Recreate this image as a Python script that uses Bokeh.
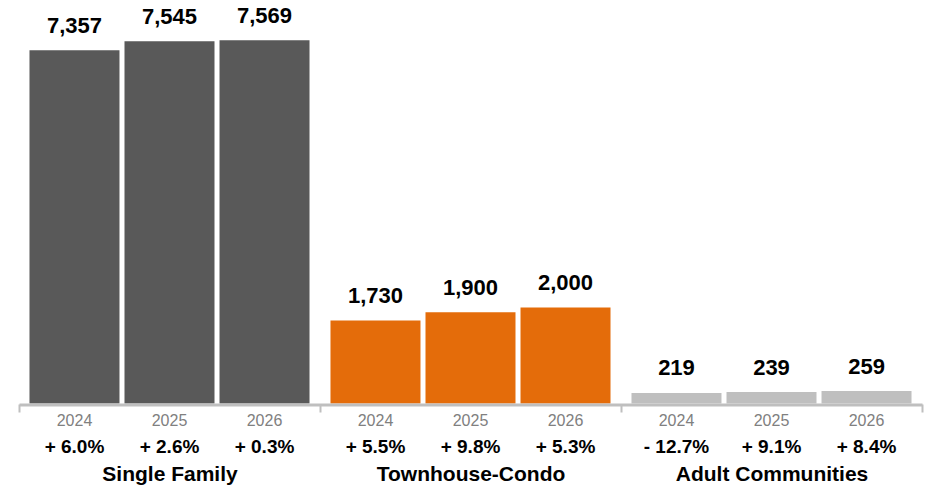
from bokeh.plotting import figure
from bokeh.models import Range1d, ColumnDataSource
from bokeh.core.properties import value
from bokeh.embed import file_html
from bokeh.resources import INLINE

# ---- data ----
groups = ["Single Family", "Townhouse-Condo", "Adult Communities"]
years = ["2024", "2025", "2026"]
single_family = [7357, 7545, 7569]
townhouse_condo = [1730, 1900, 2000]
adult_communities = [219, 239, 259]
pct_single_family = ["+ 6.0%", "+ 2.6%", "+ 0.3%"]
pct_townhouse_condo = ["+ 5.5%", "+ 9.8%", "+ 5.3%"]
pct_adult_communities = ["- 12.7%", "+ 9.1%", "+ 8.4%"]
group_colors = ["#595959", "#E46C0A", "#BFBFBF"]

series = [single_family, townhouse_condo, adult_communities]
pcts = [pct_single_family, pct_townhouse_condo, pct_adult_communities]

# ---- layout ----
W, H = 930, 490
PX_PER_UNIT_X = 100.333
X0_PX = 19
BASE_PX = 403
PX_PER_UNIT_Y = 0.048

x_start = -X0_PX / PX_PER_UNIT_X
x_end = (W - X0_PX) / PX_PER_UNIT_X
y_end = BASE_PX / PX_PER_UNIT_Y
y_start = -(H - BASE_PX) / PX_PER_UNIT_Y

FONT = value("Liberation Sans")

p = figure(width=W, height=H, output_backend="svg", toolbar_location=None,
           x_range=Range1d(x_start, x_end), y_range=Range1d(y_start, y_end),
           x_axis_type=None, y_axis_type=None, min_border=0,
           outline_line_color=None, background_fill_color="white",
           border_fill_color="white")
p.grid.visible = False

xs, tops, colors, labels, yrs, pc = [], [], [], [], [], []
for g, vals in enumerate(series):
    for i, v in enumerate(vals):
        xs.append(3 * g + 0.548 + 0.947 * i)
        tops.append(v)
        colors.append(group_colors[g])
        labels.append(f"{v:,}")
        yrs.append(years[i])
        pc.append(pcts[g][i])

src = ColumnDataSource(dict(x=xs, top=tops, color=colors, label=labels,
                            year=yrs, pct=pc, zero=[0] * len(xs)))

p.vbar(x="x", top="top", bottom=0, width=0.897, fill_color="color",
       line_color=None, source=src)

# axis line and group separators
axis_y = -1.5 / PX_PER_UNIT_Y
p.segment(x0=[0], y0=[axis_y], x1=[9], y1=[axis_y], line_color="#BFBFBF",
          line_width=3)
tick_top = -1 / PX_PER_UNIT_Y
tick_bot = -9 / PX_PER_UNIT_Y
p.segment(x0=[0, 3, 6, 9], y0=[tick_top] * 4, x1=[0, 3, 6, 9],
          y1=[tick_bot] * 4, line_color="#BFBFBF", line_width=2)

# value labels
p.text(x="x", y="top", text="label", source=src, text_align="center",
       text_baseline="alphabetic", y_offset=-25, text_font=FONT,
       text_font_style="bold", text_font_size="22px", text_color="#000000")

# year labels
p.text(x="x", y="zero", text="year", source=src, text_align="center",
       text_baseline="alphabetic", y_offset=16, text_font=FONT,
       text_font_size="16px", text_color="#808080")

# pct labels
p.text(x="x", y="zero", text="pct", source=src, text_align="center",
       text_baseline="alphabetic", y_offset=43, text_font=FONT,
       text_font_style="bold", text_font_size="19px", text_color="#000000")

# group names
p.text(x=[1.5 + 3 * g for g in range(3)], y=[0, 0, 0], text=groups,
       text_align="center", text_baseline="alphabetic", y_offset=70,
       text_font=FONT, text_font_style="bold", text_font_size="21px",
       text_color="#000000")

open("out.html", "w").write(file_html(p, INLINE))
